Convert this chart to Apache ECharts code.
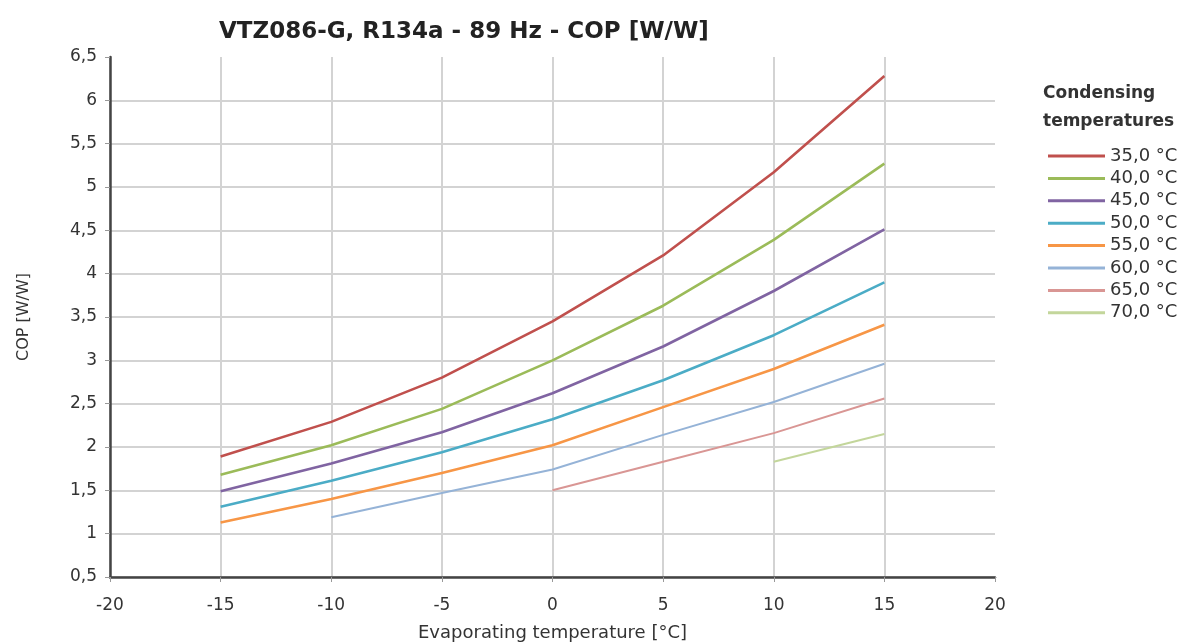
<!DOCTYPE html>
<html>
<head>
<meta charset="utf-8">
<script src="https://cdn.jsdelivr.net/npm/echarts@6/dist/echarts.min.js"></script>
<style>html,body{margin:0;padding:0;background:#fff}#c{width:1200px;height:644px}</style>
</head>
<body>
<div id="c"></div>
<script>
const evapTemps = [-15, -10, -5, 0, 5, 10, 15];
const seriesNames = ['35,0 °C', '40,0 °C', '45,0 °C', '50,0 °C', '55,0 °C', '60,0 °C', '65,0 °C', '70,0 °C'];
const cop35 = [1.89, 2.29, 2.80, 3.45, 4.21, 5.17, 6.28];
const cop40 = [1.68, 2.02, 2.44, 3.00, 3.63, 4.39, 5.27];
const cop45 = [1.49, 1.81, 2.17, 2.62, 3.16, 3.80, 4.51];
const cop50 = [1.31, 1.61, 1.94, 2.32, 2.77, 3.29, 3.90];
const cop55 = [1.13, 1.40, 1.70, 2.02, 2.46, 2.90, 3.41];
const cop60 = [null, 1.19, 1.47, 1.74, 2.14, 2.52, 2.96];
const cop65 = [null, null, null, 1.50, 1.83, 2.16, 2.56];
const cop70 = [null, null, null, null, null, 1.83, 2.15];
const colors = ['#c0504d', '#9bbb59', '#8064a2', '#4bacc6', '#f79646', '#95b3d7', '#d99694', '#c3d69b'];
const widths = [2.6, 2.6, 2.6, 2.6, 2.6, 2, 2, 2];
const allData = [cop35, cop40, cop45, cop50, cop55, cop60, cop65, cop70];

const font = 'DejaVu Sans, Verdana, sans-serif';
const chart = echarts.init(document.getElementById('c'));
chart.setOption({
  animation: false,
  title: [
    { text: 'VTZ086-G, R134a - 89 Hz - COP [W/W]', left: 214, top: 16,
      textStyle: { fontFamily: font, fontSize: 23, fontWeight: 'bold', color: '#222' } },
    { text: 'Condensing\ntemperatures', left: 1038, top: 75,
      textStyle: { fontFamily: font, fontSize: 17, fontWeight: 'bold', color: '#333', lineHeight: 28 } }
  ],
  legend: {
    orient: 'vertical', left: 1043, top: 142,
    itemWidth: 57, itemHeight: 3, itemGap: 4.4, icon: 'rect',
    textStyle: { fontFamily: font, fontSize: 18, color: '#333' },
    data: seriesNames
  },
  grid: { left: 110, top: 57, width: 885, height: 520, outerBoundsMode: 'none', containLabel: false },
  xAxis: {
    type: 'value', min: -20, max: 20, interval: 5,
    name: 'Evaporating temperature [°C]', nameLocation: 'middle', nameGap: 47,
    nameTextStyle: { fontFamily: font, fontSize: 18, color: '#333' },
    axisLine: { show: true, onZero: false, lineStyle: { color: '#444', width: 2.5 } },
    axisTick: { show: true, length: 5, lineStyle: { color: '#999' } },
    axisLabel: { fontFamily: font, fontSize: 17, color: '#333', margin: 20 },
    splitLine: { show: true, showMaxLine: false, lineStyle: { color: '#d3d3d3', width: 2 } }
  },
  yAxis: {
    type: 'value', min: 0.5, max: 6.5, interval: 0.5,
    name: 'COP [W/W]', nameLocation: 'middle', nameGap: 78, nameRotate: 90,
    nameTextStyle: { fontFamily: font, fontSize: 16, color: '#333' },
    axisLine: { show: true, onZero: false, lineStyle: { color: '#444', width: 2.5 } },
    axisTick: { show: true, length: 5, lineStyle: { color: '#999' } },
    axisLabel: { fontFamily: font, fontSize: 17, color: '#333', margin: 13,
      formatter: v => String(v).replace('.', ',') },
    splitLine: { show: true, showMaxLine: false, lineStyle: { color: '#d3d3d3', width: 2 } }
  },
  series: allData.map((d, i) => ({
    name: seriesNames[i], type: 'line', showSymbol: false, symbol: 'none',
    color: colors[i],
    lineStyle: { width: widths[i], color: colors[i] },
    data: evapTemps.map((x, j) => d[j] == null ? null : [x, d[j]]).filter(p => p)
  }))
});
</script>
</body>
</html>
